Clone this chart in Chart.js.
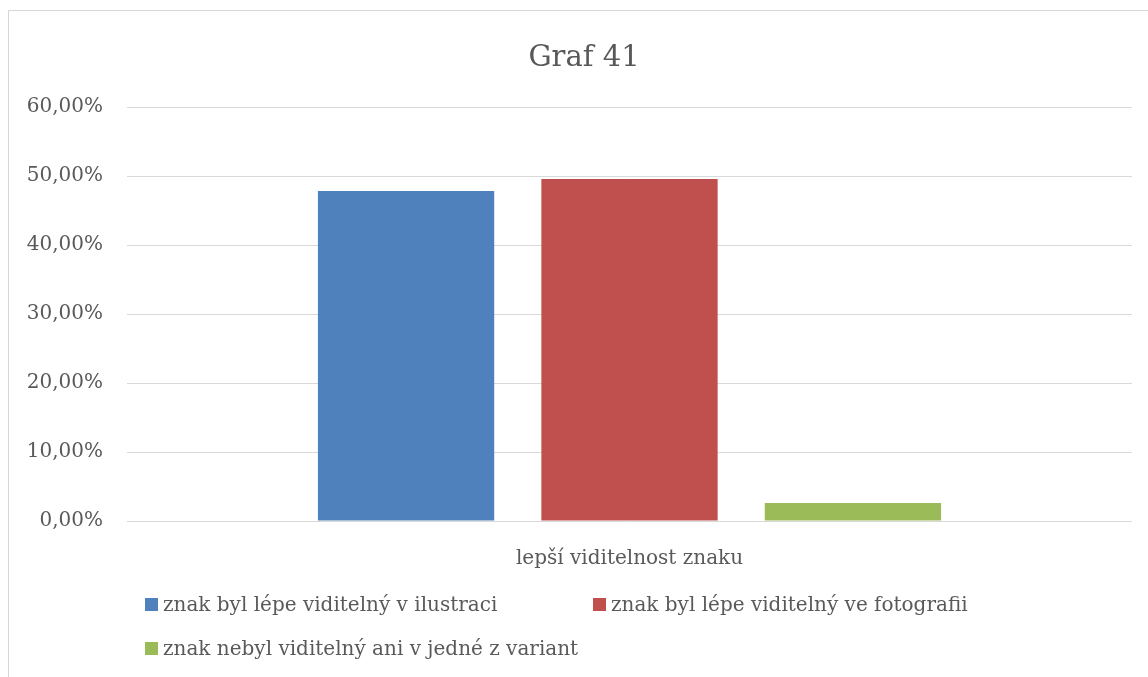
<!DOCTYPE html>
<html lang="cs">
<head>
<meta charset="utf-8">
<title>Graf 41</title>
<script src="https://cdn.jsdelivr.net/npm/chart.js@4/dist/chart.umd.min.js"></script>
<style>
  html, body { margin: 0; padding: 0; background: #ffffff; overflow: hidden; }
  #wrap { position: relative; width: 1148px; height: 677px; }
  #frame {
    position: absolute; left: 8px; top: 10px; width: 1200px; height: 720px;
    border: 1px solid #d6d6d6; box-sizing: border-box; pointer-events: none;
  }
  canvas { position: absolute; left: 0; top: 0; }
</style>
</head>
<body>
<div id="wrap">
  <div id="frame"></div>
  <canvas id="chart" width="1148" height="677"></canvas>
</div>
<script>
// Survey answers: which variant showed the sign better
const chartTitle = 'Graf 41';
const categories = ['lepší viditelnost znaku'];
const seriesNames = [
  'znak byl lépe viditelný v ilustraci',
  'znak byl lépe viditelný ve fotografii',
  'znak nebyl viditelný ani v jedné z variant'
];
const seriesColors = ['#4f81bd', '#c0504d', '#9bbb59'];
const illustrationValues = [47.83];
const photoValues = [49.57];
const neitherValues = [2.61];
const yTicks = [0, 10, 20, 30, 40, 50, 60];

const FONT = '"DejaVu Serif", "Liberation Serif", serif';
const TEXT = '#595959';

Chart.defaults.font.family = FONT;
Chart.defaults.color = TEXT;

const seriesValues = [illustrationValues, photoValues, neitherValues];

const fmtPct = v => v.toFixed(2).replace('.', ',') + '%';

// Title and a two-column legend drawn on the canvas
const frameText = {
  id: 'frameText',
  afterDraw(chart) {
    const ctx = chart.ctx;
    ctx.save();
    ctx.fillStyle = TEXT;
    ctx.font = '29px ' + FONT;
    ctx.textAlign = 'center';
    ctx.textBaseline = 'alphabetic';
    ctx.fillText(chartTitle, 584, 66);

    const cols = [145, 593];
    const rows = [611, 655];
    ctx.font = '20px ' + FONT;
    ctx.textAlign = 'left';
    chart.data.datasets.forEach((ds, i) => {
      const x = cols[i % 2];
      const base = rows[Math.floor(i / 2)];
      ctx.fillStyle = ds.backgroundColor;
      ctx.fillRect(x, base - 13, 13, 13);
      ctx.fillStyle = TEXT;
      ctx.fillText(ds.label, x + 18, base);
    });
    ctx.restore();
  }
};

new Chart(document.getElementById('chart'), {
  type: 'bar',
  data: {
    labels: categories,
    datasets: seriesNames.map((name, i) => ({
      label: name,
      data: seriesValues[i],
      backgroundColor: seriesColors[i],
      borderWidth: 0,
      categoryPercentage: 0.667,
      barPercentage: 0.789
    }))
  },
  options: {
    responsive: false,
    devicePixelRatio: 1,
    animation: false,
    layout: { padding: { top: 107, right: 16, bottom: 106, left: 0 } },
    plugins: {
      legend: { display: false },
      title: { display: false },
      tooltip: { enabled: false }
    },
    scales: {
      x: {
        grid: { display: false },
        border: { display: false },
        ticks: { font: { size: 20 }, color: TEXT, padding: 18 },
        afterFit: s => { s.height = 50; }
      },
      y: {
        min: yTicks[0],
        max: yTicks[yTicks.length - 1],
        afterBuildTicks: s => { s.ticks = yTicks.map(v => ({ value: v })); },
        grid: { color: '#d9d9d9', lineWidth: 1, drawTicks: false },
        border: { display: false },
        ticks: {
          font: { size: 20 },
          color: TEXT,
          padding: 24,
          callback: v => fmtPct(v)
        },
        afterFit: s => { s.width = 127; }
      }
    }
  },
  plugins: [frameText]
});
</script>
</body>
</html>
